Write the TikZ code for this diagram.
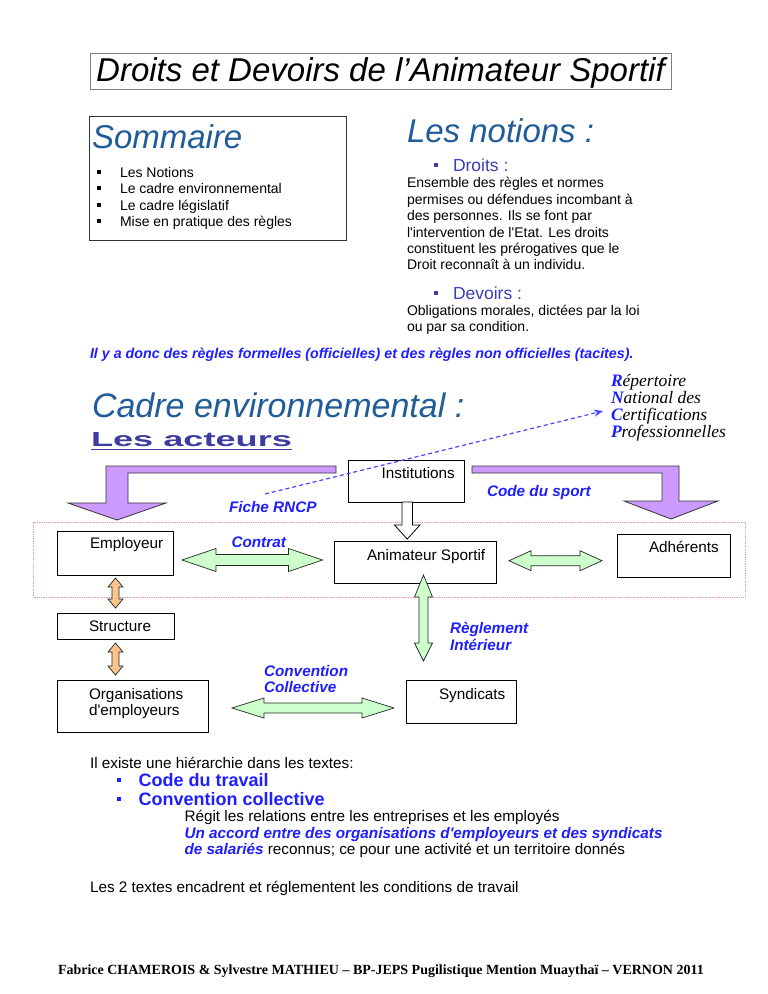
\documentclass[tikz,border=0pt]{standalone}
\usepackage{fontspec}
\setmainfont{Liberation Sans}[Ligatures=TeXOff]
\newfontfamily\timesf{Liberation Serif}
\usetikzlibrary{arrows.meta}
\definecolor{hdr}{RGB}{31,92,153}
\definecolor{dblue}{RGB}{60,60,180}
\definecolor{lblue}{RGB}{30,30,255}
\definecolor{acteurc}{RGB}{60,60,160}
\definecolor{purp}{RGB}{204,153,255}
\definecolor{grn}{RGB}{204,255,204}
\definecolor{orng}{RGB}{250,195,140}
\definecolor{pinkd}{RGB}{230,150,165}
\newcommand{\fsz}[2]{\fontsize{#1}{#2}\selectfont}
\newcommand{\bodyf}{\fsz{15.3}{16.4}}
\newcommand{\smallf}{\fsz{14}{16.4}}
\newcommand{\labf}{\fsz{15.3}{16.4}\bfseries\itshape}
\newcommand{\hdrf}{\fsz{33}{36}\itshape}
\newcommand{\rncpf}{\timesf\itshape\fsz{17.5}{19}}
% horizontal double block arrow: x1 x2 y shafthalf headhalf headlen fill
\newcommand{\hdarrow}[7]{%
 \filldraw[fill=#7, draw=black!85, line width=0.7pt, line join=miter]
 (#1,#3) -- ({#1+#6},{#3-#5}) -- ({#1+#6},{#3-#4}) -- ({#2-#6},{#3-#4}) -- ({#2-#6},{#3-#5})
 -- (#2,#3) -- ({#2-#6},{#3+#5}) -- ({#2-#6},{#3+#4}) -- ({#1+#6},{#3+#4}) -- ({#1+#6},{#3+#5}) -- cycle;}
% vertical double block arrow: x y1 y2 shafthalf headhalf headtop headbottom fill
\newcommand{\vdarrow}[8]{%
 \filldraw[fill=#8, draw=black!85, line width=0.7pt, line join=miter]
 (#1,#2) -- ({#1+#5},{#2+#6}) -- ({#1+#4},{#2+#6}) -- ({#1+#4},{#3-#7}) -- ({#1+#5},{#3-#7})
 -- (#1,#3) -- ({#1-#5},{#3-#7}) -- ({#1-#4},{#3-#7}) -- ({#1-#4},{#2+#6}) -- ({#1-#5},{#2+#6}) -- cycle;}
\begin{document}
\begin{tikzpicture}[x=1pt,y=-1pt,
  every node/.style={inner sep=0pt, outer sep=0pt},
  t/.style={anchor=base west, font=\bodyf},
  ts/.style={anchor=base west, font=\smallf},
  lab/.style={anchor=base west, font=\labf, text=lblue},
  bx/.style={draw=black, line width=0.9pt, fill=white, anchor=north west},
  sq/.style={fill=#1, minimum size=4pt, inner sep=0pt},
  sq/.default=black]
\useasboundingbox[fill=white] (0,0) rectangle (768,994);

% ---------- title ----------
\node[draw=black!50, line width=1pt, anchor=north west, minimum width=581pt, minimum height=36pt] (titlebox) at (90,53) {};
\node[font=\fsz{33}{36}\itshape, anchor=base] (title) at (380.5,81) {Droits et Devoirs de l’Animateur Sportif};

% ---------- sommaire ----------
\node[draw=black!80, line width=0.9pt, anchor=north west, minimum width=257pt, minimum height=124pt] (sombox) at (89,116) {};
\node[anchor=base west, font=\fsz{33}{36}\itshape, text=hdr] (sommaire) at (92,148) {Sommaire};
\node[sq] (sb1) at (99,172) {};
\node[sq] (sb2) at (99,188.4) {};
\node[sq] (sb3) at (99,204.8) {};
\node[sq] (sb4) at (99,221.2) {};
\node[ts] (s1) at (120,177.2) {Les Notions};
\node[ts] (s2) at (120,193.6) {Le cadre environnemental};
\node[ts] (s3) at (120,210.0) {Le cadre législatif};
\node[ts] (s4) at (120,226.4) {Mise en pratique des règles};

% ---------- les notions ----------
\node[anchor=base west, font=\hdrf, text=hdr] (notions) at (407,142) {Les notions :};
\node[sq=dblue] (db) at (436,165) {};
\node[anchor=base west, font=\fsz{17.5}{19}, text=dblue] (droits) at (453,171) {Droits :};
\node[ts] (d1) at (407,187.8) {Ensemble des règles et normes};
\node[ts] (d2) at (407,204.2) {permises ou défendues incombant à};
\node[ts] (d3) at (407,220.6) {des personnes. Ils se font par};
\node[ts] (d4) at (407,237.0) {l'intervention de l'Etat. Les droits};
\node[ts] (d5) at (407,253.4) {constituent les prérogatives que le};
\node[ts] (d6) at (407,269.8) {Droit reconnaît à un individu.};
\node[sq=dblue] (dvb) at (436,293) {};
\node[anchor=base west, font=\fsz{17.5}{19}, text=dblue] (devoirs) at (453,299) {Devoirs :};
\node[ts] (o1) at (407,315.5) {Obligations morales, dictées par la loi};
\node[ts] (o2) at (407,331.9) {ou par sa condition.};

\node[anchor=base west, font=\fsz{14.25}{16}\bfseries\itshape, text=lblue] (regles) at (90,358) {Il y a donc des règles formelles (officielles) et des règles non officielles (tacites).};

% ---------- cadre environnemental ----------
\node[anchor=base west, font=\fsz{34}{36}\itshape, text=hdr] (cadre) at (92,417) {Cadre environnemental :};
\node[anchor=base west, text=acteurc] (acteurs) at (91,446) {\resizebox{201pt}{14pt}{\bfseries Les acteurs}};
\draw[acteurc, line width=1.4pt] ([yshift=-3.5pt]acteurs.base west) -- ([yshift=-3.5pt]acteurs.base east);

\node[anchor=base west, font=\rncpf] (r1) at (611,386) {\textcolor{lblue}{\bfseries R}épertoire};
\node[anchor=base west, font=\rncpf] (r2) at (611,403.3) {\textcolor{lblue}{\bfseries N}ational des};
\node[anchor=base west, font=\rncpf] (r3) at (611,420.6) {\textcolor{lblue}{\bfseries C}ertifications};
\node[anchor=base west, font=\rncpf] (r4) at (611,437.9) {\textcolor{lblue}{\bfseries P}rofessionnelles};

% pink dotted frame
\node[draw=pinkd, densely dotted, line width=0.8pt, anchor=north west, minimum width=711.5pt, minimum height=75pt] (frame) at (33.5,522) {};

% purple bent arrows
\filldraw[fill=purp, draw=black!80, line width=0.8pt, line join=miter]
  (106,466) -- (336,466) -- (336,473) -- (128,473) -- (128,503) -- (166,503) -- (117,520) -- (68,503) -- (106,503) -- cycle;
\filldraw[fill=purp, draw=black!80, line width=0.8pt, line join=miter]
  (472,466) -- (679,466) -- (679,501) -- (718,501) -- (671,519) -- (624,501) -- (662,501) -- (662,473) -- (472,473) -- cycle;

% ---------- boxes ----------
\node[bx, minimum width=116pt, minimum height=42pt] (instbox) at (348,460) {};
\node[t] (inst) at (381.7,478.5) {Institutions};
\node[bx, minimum width=116pt, minimum height=44pt] (empbox) at (57,531) {};
\node[t] (emp) at (90,548.5) {Employeur};
\node[bx, minimum width=162pt, minimum height=42pt] (animbox) at (334,541) {};
\node[t] (anim) at (367,560.5) {Animateur Sportif};
\node[bx, minimum width=113pt, minimum height=43pt] (adhbox) at (617,534) {};
\node[t] (adh) at (649,552.5) {Adhérents};
\node[bx, minimum width=117pt, minimum height=26pt] (strbox) at (57,613) {};
\node[t] (str) at (89,631.5) {Structure};
\node[bx, minimum width=151pt, minimum height=52pt] (orgbox) at (57,680) {};
\node[t] (org1) at (89,699.5) {Organisations};
\node[t] (org2) at (89,715.5) {d'employeurs};
\node[bx, minimum width=110pt, minimum height=43pt] (synbox) at (406,680) {};
\node[t] (syn) at (439,699.5) {Syndicats};

% labels
\node[lab] (fiche) at (229,512) {Fiche RNCP};
\node[lab] (codesport) at (487,496) {Code du sport};
\node[lab] (contrat) at (231.5,547.5) {Contrat};
\node[lab] (regl1) at (450,633.5) {Règlement};
\node[lab] (regl2) at (450,650.5) {Intérieur};
\node[lab] (conv1) at (264,676.5) {Convention};
\node[lab] (conv2) at (264,692.5) {Collective};

% white arrow institutions -> animateur
\filldraw[fill=white, draw=black, line width=0.8pt, line join=miter]
  (402,502) -- (412.5,502) -- (412.5,525) -- (420,525) -- (407.2,539) -- (394.5,525) -- (402,525) -- cycle;

% green / orange block arrows
\hdarrow{182}{322.5}{560}{5.5}{11.5}{34}{grn}
\hdarrow{509}{602}{560.7}{5}{10}{22}{grn}
\hdarrow{232}{394}{708}{5}{10}{32}{grn}
\vdarrow{423.5}{575}{661}{4.5}{9}{22}{18}{grn}
\vdarrow{115.5}{578}{608}{3.5}{7.5}{9}{9}{orng}
\vdarrow{115.5}{643}{675}{3.5}{7.5}{9}{9}{orng}

% dashed RNCP arrow
\coordinate (dstart) at (265,494);
\coordinate (dend) at (603,411);
\draw[draw={rgb,255:red,70;green,70;blue,255}, line width=1.2pt, dash pattern=on 4pt off 3pt, -{Stealth[length=9pt,width=7pt]}] (dstart) -- (dend);

% ---------- bottom text ----------
\node[t] (hier) at (90,768.5) {Il existe une hiérarchie dans les textes:};
\node[sq=lblue, minimum size=4.5pt] (cb1) at (119,780) {};
\node[sq=lblue, minimum size=4.5pt] (cb2) at (119,799) {};
\node[anchor=base west, font=\fsz{18}{20}\bfseries, text=lblue] (ct) at (138.6,786.5) {Code du travail};
\node[anchor=base west, font=\fsz{18}{20}\bfseries, text=lblue] (cc) at (138.6,805.5) {Convention collective};
\node[t] (reg) at (184.5,821.5) {Régit les relations entre les entreprises et les employés};
\node[lab] (acc) at (184.5,838.5) {Un accord entre des organisations d'employeurs et des syndicats};
\node[t] (sal) at (184.5,854.5) {\textcolor{lblue}{\bfseries\itshape de salariés} reconnus; ce pour une activité et un territoire donnés};
\node[t] (les2) at (90,892.5) {Les 2 textes encadrent et réglementent les conditions de travail};

\node[anchor=base west, font=\timesf\bfseries\fsz{14}{16}] (footer) at (58,974) {Fabrice CHAMEROIS \& Sylvestre MATHIEU – BP-JEPS Pugilistique Mention Muaythaï – VERNON 2011};
\end{tikzpicture}
\end{document}
